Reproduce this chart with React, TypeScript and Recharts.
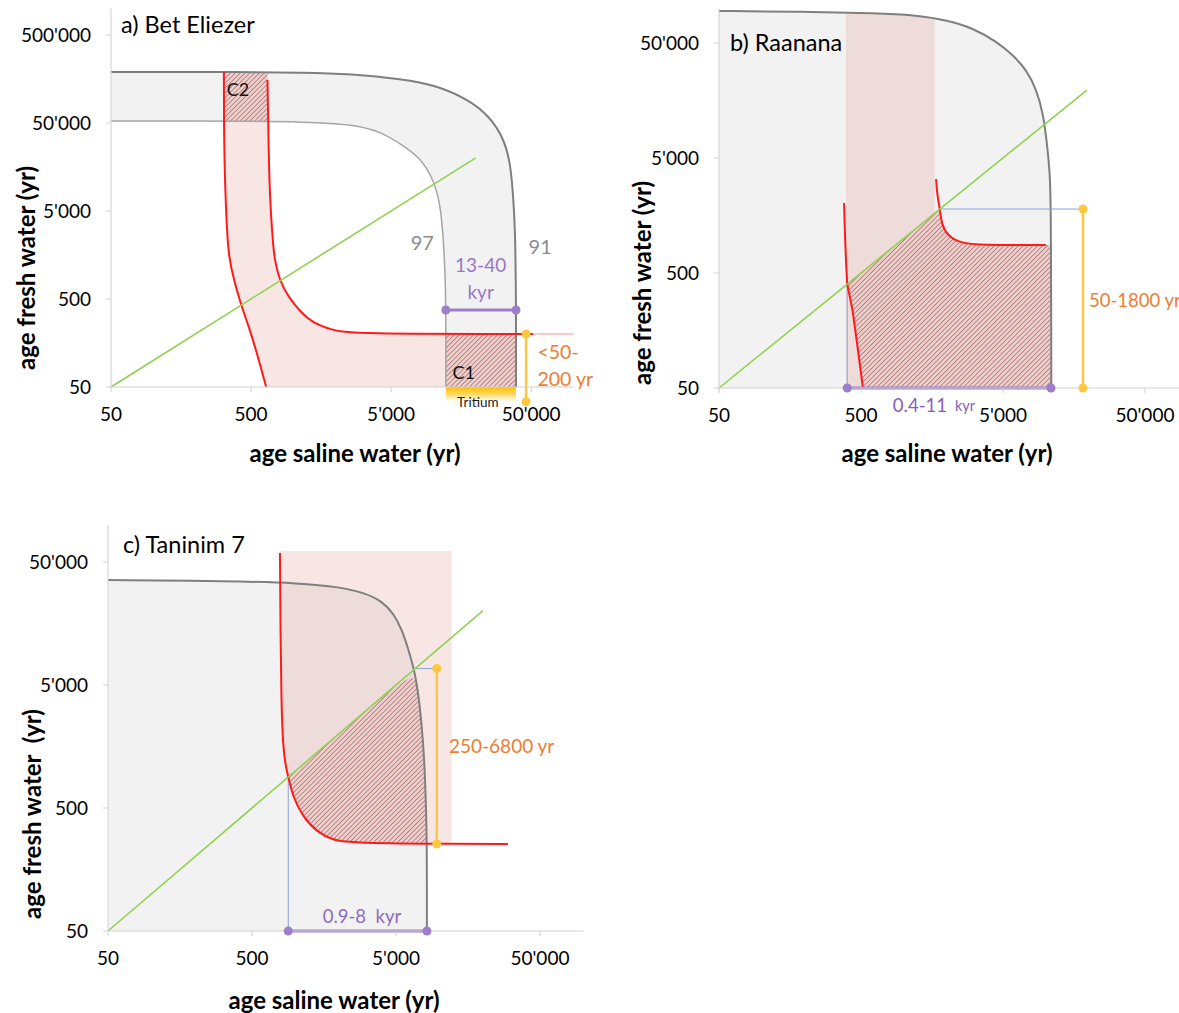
import { ComposedChart, Area, Line, XAxis, YAxis, ReferenceDot, ReferenceLine, ReferenceArea } from "recharts";

const FONT = "Lato, 'Open Sans', sans-serif";

const GRAY_FILL = "#f2f2f2";
const GRAY_LINE = "#7f7f7f";
const GRAY_LIGHT = "#a5a5a5";
const RED = "#ff1a1a";
const GREEN = "#92d050";
const PURPLE = "#9c7fc8";
const YELLOW = "#fdc840";
const ORANGE = "#ed7d31";
const BLUE = "#86a4d8";
const PINK = "#e18c82";

// axis ticks
const salineTicks = [50, 500, 5000, 50000];
const freshTicksA = [50, 500, 5000, 50000, 500000];
const freshTicksBC = [50, 500, 5000, 50000];

// ---------- a) Bet Eliezer ----------
const curve91A = [
  { x: 50, y: 190000 }, { x: 500, y: 190000 }, { x: 1146, y: 187500 }, { x: 2620, y: 180000 },
  { x: 6000, y: 158000 }, { x: 10370, y: 135000 }, { x: 18200, y: 91000 }, { x: 25350, y: 58500 },
  { x: 31450, y: 34700 }, { x: 35300, y: 19000 }, { x: 37100, y: 8000 }, { x: 38400, y: 3290 },
  { x: 39000, y: 585 }, { x: 39000, y: 50 },
];
const curve97A = [
  { x: 50, y: 52700 }, { x: 500, y: 52700 }, { x: 1146, y: 51300 }, { x: 2620, y: 48700 },
  { x: 4300, y: 39500 }, { x: 6000, y: 28100 }, { x: 7950, y: 20550 }, { x: 9860, y: 12150 },
  { x: 11070, y: 6670 }, { x: 11640, y: 3290 }, { x: 12030, y: 1387 }, { x: 12300, y: 585 },
  { x: 12300, y: 50 },
];
const redLeftA = [
  { x: 320, y: 190000 }, { x: 320, y: 52000 }, { x: 325, y: 11250 }, { x: 336, y: 3040 },
  { x: 347, y: 1500 }, { x: 377, y: 822 }, { x: 424, y: 427 }, { x: 484, y: 240 },
  { x: 561, y: 110 }, { x: 641, y: 50 },
];
const redRightA = [
  { x: 655, y: 154000 }, { x: 663, y: 52000 }, { x: 674, y: 11250 }, { x: 697, y: 3950 },
  { x: 720, y: 2055 }, { x: 732, y: 1500 }, { x: 795, y: 822 }, { x: 923, y: 527 },
  { x: 1146, y: 347 }, { x: 1352, y: 274 }, { x: 1880, y: 222 }, { x: 2620, y: 200 },
  { x: 51650, y: 200 },
];
const redFaintA = [{ x: 51650, y: 200 }, { x: 100000, y: 200 }];
const pinkA = [
  { x: 320, r: [52000, 52000] }, { x: 325, r: [11250, 52000] }, { x: 336, r: [3040, 52000] },
  { x: 347, r: [1500, 52000] }, { x: 377, r: [822, 52000] }, { x: 424, r: [427, 52000] },
  { x: 484, r: [240, 52000] }, { x: 561, r: [110, 52000] }, { x: 641, r: [50, 52000] },
  { x: 663, r: [50, 52000] }, { x: 674, r: [50, 11250] }, { x: 697, r: [50, 3950] },
  { x: 720, r: [50, 2055] }, { x: 732, r: [50, 1500] }, { x: 795, r: [50, 822] },
  { x: 923, r: [50, 527] }, { x: 1146, r: [50, 347] }, { x: 1352, r: [50, 274] },
  { x: 1880, r: [50, 222] }, { x: 2620, r: [50, 200] }, { x: 12300, r: [50, 200] },
];
const c2A = [{ x: 320, r: [52000, 190000] }, { x: 655, r: [52000, 190000] }];
const c1A = [{ x: 12300, r: [50, 200] }, { x: 39000, r: [50, 200] }];
const greenA = [{ x: 50, y: 50 }, { x: 20100, y: 20100 }];
const purpleA = [{ x: 12300, y: 375 }, { x: 39000, y: 375 }];
const yellowA = { x: 46000, from: 200, to: 34 };

// ---------- b) Raanana ----------
const curveB = [
  { x: 50, y: 94850 }, { x: 186, y: 93960 }, { x: 680, y: 90600 }, { x: 1161, y: 87570 },
  { x: 2006, y: 79250 }, { x: 3074, y: 67500 }, { x: 4515, y: 51300 }, { x: 5880, y: 39300 },
  { x: 7340, y: 29100 }, { x: 8636, y: 19500 }, { x: 9565, y: 12300 }, { x: 10150, y: 7175 },
  { x: 10710, y: 3705 }, { x: 10890, y: 1874 }, { x: 10950, y: 50 },
];
const pinkB = [{ x: 392, r: [50, 91000] }, { x: 1161, r: [50, 87570] }, { x: 1650, r: [50, 83000] }];
const redLeftB = [
  { x: 380, y: 2030 }, { x: 386, y: 1050 }, { x: 393, y: 600 }, { x: 400, y: 400 },
  { x: 420, y: 300 }, { x: 439, y: 224 }, { x: 476, y: 107 }, { x: 516, y: 50 },
];
const redRightB = [
  { x: 1690, y: 3285 }, { x: 1720, y: 2385 }, { x: 1800, y: 1800 }, { x: 1850, y: 1307 },
  { x: 2050, y: 1050 }, { x: 2490, y: 912 }, { x: 3445, y: 876 }, { x: 10040, y: 876 },
];
const hatchB = [
  { x: 400, r: [400, 400] }, { x: 420, r: [300, 420] }, { x: 439, r: [224, 439] },
  { x: 476, r: [107, 476] }, { x: 516, r: [50, 516] }, { x: 1800, r: [50, 1800] },
  { x: 1850, r: [50, 1307] }, { x: 2050, r: [50, 1050] }, { x: 2490, r: [50, 912] },
  { x: 3445, r: [50, 876] }, { x: 10900, r: [50, 876] },
];
const greenB = [{ x: 50, y: 50 }, { x: 19500, y: 19500 }];
const blueVB = [{ x: 400, y: 400 }, { x: 400, y: 50 }];
const blueHB = [{ x: 1800, y: 1800 }, { x: 18300, y: 1800 }];
const yellowB = [{ x: 18300, y: 1800 }, { x: 18300, y: 50 }];
const purpleB = [{ x: 400, y: 50 }, { x: 10900, y: 50 }];

// ---------- c) Taninim 7 ----------
const curveC = [
  { x: 50, y: 35700 }, { x: 352, y: 35050 }, { x: 1077, y: 33700 }, { x: 2041, y: 31300 },
  { x: 3046, y: 27990 }, { x: 3997, y: 24100 }, { x: 4845, y: 18900 }, { x: 5505, y: 14000 },
  { x: 6058, y: 10000 }, { x: 6670, y: 6745 }, { x: 6995, y: 5000 }, { x: 7340, y: 3310 },
  { x: 7700, y: 1786 }, { x: 7945, y: 963 }, { x: 8075, y: 509 }, { x: 8200, y: 274 },
  { x: 8200, y: 50 },
];
const pinkC = [
  { x: 782, r: [61500, 61500] }, { x: 790, r: [11600, 61500] }, { x: 800, r: [3775, 61500] },
  { x: 817, r: [1786, 61500] }, { x: 848, r: [1161, 61500] }, { x: 893, r: [893, 61500] },
  { x: 963, r: [614, 61500] }, { x: 1130, r: [423, 61500] }, { x: 1414, r: [319, 61500] },
  { x: 1826, r: [274, 61500] }, { x: 2397, r: [260, 61500] }, { x: 12190, r: [255, 61500] },
];
const redC = [
  { x: 782, y: 59150 }, { x: 790, y: 11600 }, { x: 800, y: 3775 }, { x: 817, y: 1786 },
  { x: 848, y: 1161 }, { x: 893, y: 893 }, { x: 963, y: 614 }, { x: 1130, y: 423 },
  { x: 1414, y: 319 }, { x: 1826, y: 274 }, { x: 2397, y: 260 }, { x: 13900, y: 255 },
  { x: 29950, y: 255 },
];
const hatchC = [
  { x: 893, r: [893, 893] }, { x: 963, r: [614, 963] }, { x: 1130, r: [423, 1130] },
  { x: 1414, r: [319, 1414] }, { x: 1826, r: [274, 1826] }, { x: 2397, r: [260, 2397] },
  { x: 6700, r: [255, 6700] }, { x: 6995, r: [255, 5000] }, { x: 7340, r: [255, 3310] },
  { x: 7700, r: [255, 1786] }, { x: 7945, r: [255, 963] }, { x: 8075, r: [255, 509] },
  { x: 8200, r: [255, 274] },
];
const greenC = [{ x: 50, y: 50 }, { x: 20100, y: 20100 }];
const blueVC = [{ x: 893, y: 893 }, { x: 893, y: 50 }];
const blueHC = [{ x: 6700, y: 6800 }, { x: 9600, y: 6800 }];
const yellowC = [{ x: 9600, y: 6800 }, { x: 9600, y: 255 }];
const purpleC = [{ x: 893, y: 50 }, { x: 8200, y: 50 }];

const fmt = (v: number) => String(v).replace(/\B(?=(\d{3})+(?!\d))/g, "'");

const tickStyle = { fill: "#000", fontSize: 19, fontFamily: FONT };

function xAxis() {
  return (
    <XAxis type="number" dataKey="x" scale="log" domain={[50, 100000]} ticks={salineTicks}
      tickFormatter={fmt} interval={0} height={30} tickSize={5} tickMargin={16}
      axisLine={{ stroke: "#d0d0d0" }} tickLine={{ stroke: "#d0d0d0" }} tick={tickStyle} />
  );
}
function yAxis(top: number, ticks: number[]) {
  return (
    <YAxis type="number" scale="log" domain={[50, top]} ticks={ticks} tickFormatter={fmt}
      interval={0} width={60} tickSize={5} tickMargin={15}
      axisLine={{ stroke: "#d0d0d0" }} tickLine={{ stroke: "#d0d0d0" }} tick={tickStyle} />
  );
}
// smooth = B-spline through the read points, used for the bent curves
function line(key: string, data: any[], stroke: string, width: number, dots = false, smooth = false) {
  return (
    <Line key={key} data={data} dataKey="y" type={smooth ? "basis" : "linear"} stroke={stroke} strokeWidth={width}
      dot={dots ? { r: 4.5, fill: stroke, stroke: stroke, strokeWidth: 0 } : false}
      activeDot={false} isAnimationActive={false} />
  );
}
function fill(key: string, data: any[], dataKey: string, color: string, opacity = 1, smooth = true) {
  return (
    <Area key={key} data={data} dataKey={dataKey} type={smooth ? "basis" : "linear"} stroke="none" fill={color}
      fillOpacity={opacity} activeDot={false} isAnimationActive={false} />
  );
}
function note(key: string, x: number, y: number, value: string, color: string, size: number, position = "center") {
  return (
    <ReferenceDot key={key} x={x} y={y} r={0} fill="none" stroke="none" ifOverflow="visible"
      label={{ value, position, offset: 0, fill: color, fontSize: size, fontFamily: FONT }} />
  );
}

const titleStyle: any = { position: "absolute", fontFamily: FONT, fontSize: 23.5, color: "#000", whiteSpace: "nowrap" };
const axisTitleStyle: any = { position: "absolute", fontFamily: FONT, fontSize: 24, fontWeight: 700, color: "#000", whiteSpace: "pre", transform: "translate(-50%, -50%)" };
const yTitleStyle: any = { ...axisTitleStyle, transform: "translate(-50%, -50%) rotate(-90deg)" };

export default function App() {
  return (
    <div style={{ position: "absolute", left: 0, top: 0, width: 1179, height: 1013, background: "#fff", overflow: "hidden" }}>
      <svg width={0} height={0} style={{ position: "absolute" }}>
        <defs>
          <pattern id="hatch" patternUnits="userSpaceOnUse" width={3.4} height={3.4} patternTransform="rotate(45)">
            <rect width={3.4} height={3.4} fill="#ebd0ce" />
            <line x1={0} y1={0} x2={0} y2={3.4} stroke="#ab6e6c" strokeWidth={1.5} />
          </pattern>
          <linearGradient id="tritium" x1="0" y1="0" x2="0" y2="1">
            <stop offset="0" stopColor="#ffc000" stopOpacity={1} />
            <stop offset="0.35" stopColor="#ffc000" stopOpacity={0.75} />
            <stop offset="1" stopColor="#ffc000" stopOpacity={0} />
          </linearGradient>
        </defs>
      </svg>

      {/* a) Bet Eliezer */}
      <div style={{ position: "absolute", left: 0, top: 0 }}>
        <ComposedChart width={600} height={470} margin={{ top: 8.5, right: 26.7, bottom: 53, left: 51 }}>
          {xAxis()}
          {yAxis(1000000, freshTicksA)}
          {fill("g91", curve91A, "y", GRAY_FILL)}
          {fill("g97", curve97A, "y", "#ffffff")}
          {fill("pink", pinkA, "r", PINK, 0.22)}
          {fill("c2", c2A, "r", "url(#hatch)", 1, false)}
          {fill("c1", c1A, "r", "url(#hatch)", 1, false)}
          <ReferenceArea x1={12300} x2={39000} y1={34} y2={50} ifOverflow="visible" fill="url(#tritium)" fillOpacity={1} stroke="none" />
          {line("l91", curve91A, GRAY_LINE, 2, false, true)}
          {line("l97", curve97A, GRAY_LIGHT, 1.5, false, true)}
          {line("rl", redLeftA, RED, 2, false, true)}
          {line("rr", redRightA, RED, 2, false, true)}
          {line("rf", redFaintA, "#f6b8b8", 1.5)}
          {line("gr", greenA, GREEN, 1.6)}
          {line("pu", purpleA, PURPLE, 3, true)}
          <ReferenceLine segment={[{ x: yellowA.x, y: yellowA.from }, { x: yellowA.x, y: yellowA.to }]} stroke={YELLOW} strokeWidth={2.5} ifOverflow="visible" />
          <ReferenceDot x={yellowA.x} y={yellowA.from} r={4.5} fill={YELLOW} stroke="none" ifOverflow="visible" />
          <ReferenceDot x={yellowA.x} y={yellowA.to} r={4.5} fill={YELLOW} stroke="none" ifOverflow="visible" />
          {note("n97", 8360, 2165, "97", "#8c8c8c", 20)}
          {note("n91", 58000, 1950, "91", "#8c8c8c", 20)}
          {note("nk1", 21800, 1216, "13-40", "#9878c4", 19)}
          {note("nk2", 21800, 601, "kyr", "#9878c4", 19)}
          {note("nc1", 16480, 72, "C1", "#111", 18)}
          {note("nc2", 403, 118500, "C2", "#111", 18)}
          {note("ntr", 20800, 34, "Tritium", "#222", 13.5)}
          {note("ny1", 55500, 125, "<50-", ORANGE, 19.5, "right")}
          {note("ny2", 55500, 61, "200 yr", ORANGE, 19.5, "right")}
        </ComposedChart>
      </div>
      <div style={{ ...titleStyle, left: 121, top: 10 }}>a) Bet Eliezer</div>
      <div style={{ ...axisTitleStyle, left: 355, top: 452 }}>age saline water (yr)</div>
      <div style={{ ...yTitleStyle, left: 25, top: 268 }}>age fresh water (yr)</div>

      {/* b) Raanana */}
      <div style={{ position: "absolute", left: 600, top: 0 }}>
        <ComposedChart width={600} height={470} margin={{ top: 8.4, right: 12.3, bottom: 52, left: 59 }}>
          {xAxis()}
          {yAxis(100000, freshTicksBC)}
          {fill("gb", curveB, "y", GRAY_FILL)}
          {fill("pb", pinkB, "r", PINK, 0.22, false)}
          {fill("hb", hatchB, "r", "url(#hatch)", 1, false)}
          {line("lb", curveB, GRAY_LINE, 2, false, true)}
          {line("bv", blueVB, BLUE, 1)}
          {line("bh", blueHB, BLUE, 1)}
          {line("rl", redLeftB, RED, 2)}
          {line("rr", redRightB, RED, 2, false, true)}
          {line("gr", greenB, GREEN, 1.6)}
          {line("ye", yellowB, YELLOW, 2.5, true)}
          {line("pu", purpleB, PURPLE, 3, true)}
          {note("nk1", 1301, 35.5, "0.4-11", "#8660b8", 18.5)}
          {note("nk2", 2700, 35, "kyr", "#8660b8", 14.5)}
          {note("ny", 20170, 291, "50-1800 yr", ORANGE, 18.5, "right")}
        </ComposedChart>
      </div>
      <div style={{ ...titleStyle, left: 730, top: 28 }}>b) Raanana</div>
      <div style={{ ...axisTitleStyle, left: 947, top: 452 }}>age saline water (yr)</div>
      <div style={{ ...yTitleStyle, left: 641, top: 283 }}>age fresh water (yr)</div>

      {/* c) Taninim 7 */}
      <div style={{ position: "absolute", left: 0, top: 470 }}>
        <ComposedChart width={600} height={543} margin={{ top: 55, right: 16.7, bottom: 52, left: 48 }}>
          {xAxis()}
          {yAxis(100000, freshTicksBC)}
          {fill("gc", curveC, "y", GRAY_FILL)}
          {fill("pc", pinkC, "r", PINK, 0.22)}
          {fill("hc", hatchC, "r", "url(#hatch)")}
          {line("lc", curveC, GRAY_LINE, 2, false, true)}
          {line("bv", blueVC, BLUE, 1)}
          {line("bh", blueHC, BLUE, 1)}
          {line("rc", redC, RED, 2, false, true)}
          {line("gr", greenC, GREEN, 1.6)}
          {line("ye", yellowC, YELLOW, 2.5, true)}
          {line("pu", purpleC, PURPLE, 3, true)}
          {note("ny", 11670, 1596, "250-6800 yr", ORANGE, 19, "right")}
          {note("nk", 2903, 66, "0.9-8\u00a0 kyr", "#8e6cc0", 18.5)}
        </ComposedChart>
      </div>
      <div style={{ ...titleStyle, left: 123, top: 530 }}>c) Taninim 7</div>
      <div style={{ ...axisTitleStyle, left: 334, top: 999 }}>age saline water (yr)</div>
      <div style={{ ...yTitleStyle, left: 31, top: 814 }}>age fresh water  (yr)</div>
    </div>
  );
}
